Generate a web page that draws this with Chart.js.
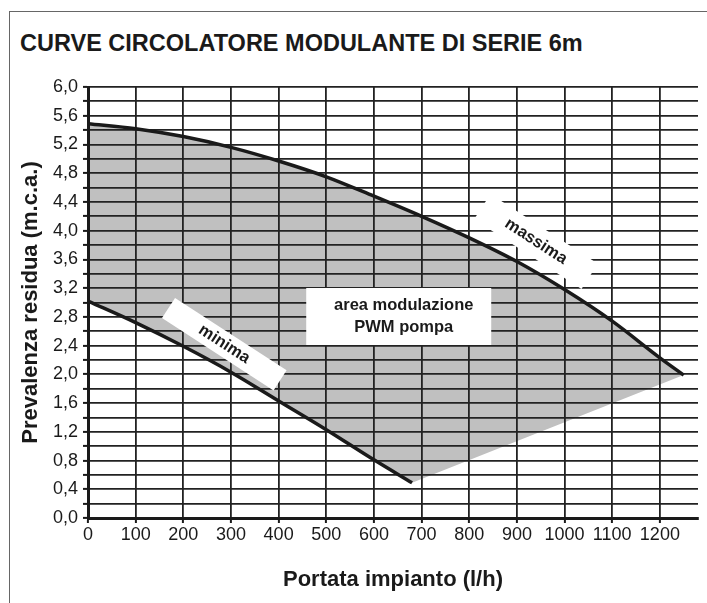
<!DOCTYPE html>
<html lang="it">
  <head>
    <meta charset="UTF-8" />
    <title>Curve circolatore modulante</title>
    <script src="https://cdn.jsdelivr.net/npm/chart.js"></script>
    <style>
      body { margin: 0; background: #fff; font-family: "Liberation Sans", Arial, sans-serif; }
      #wrap { position: relative; width: 707px; height: 603px; }
      #frame { position: absolute; left: 9px; top: 11px; right: 0; bottom: 0; border-left: 1px solid #666; border-top: 1px solid #666; }
      #title { position: absolute; left: 20px; top: 32px; margin: 0; font-size: 23.5px; line-height: 23px; font-weight: bold; color: #1a1a1a; white-space: nowrap; }
      canvas { position: absolute; left: 0; top: 0; }
    </style>
  </head>
  <body>
    <div id="wrap">
      <div id="frame"></div>
      <h1 id="title">CURVE CIRCOLATORE MODULANTE DI SERIE 6m</h1>
      <canvas id="curveChart" width="707" height="603"></canvas>
    </div>

    <script>
      // curve values (portata l/h, prevalenza m)
      const massimaX = [0, 100, 200, 300, 400, 500, 600, 700, 800, 900, 1000, 1100, 1200, 1250];
      const massimaY = [5.49, 5.42, 5.31, 5.16, 4.97, 4.75, 4.48, 4.2, 3.9, 3.57, 3.18, 2.74, 2.23, 1.99];
      const minimaX = [0, 100, 200, 300, 400, 500, 600, 680];
      const minimaY = [3.02, 2.72, 2.39, 2.03, 1.63, 1.23, 0.81, 0.49];

      // axis ticks
      const xTicks = [0, 100, 200, 300, 400, 500, 600, 700, 800, 900, 1000, 1100, 1200];
      const xTickLabels = ["0", "100", "200", "300", "400", "500", "600", "700", "800", "900", "1000", "1100", "1200"];
      const yGrid = [0, 0.2, 0.4, 0.6, 0.8, 1, 1.2, 1.4, 1.6, 1.8, 2, 2.2, 2.4, 2.6, 2.8, 3, 3.2, 3.4, 3.6, 3.8, 4, 4.2, 4.4, 4.6, 4.8, 5, 5.2, 5.4, 5.6, 5.8, 6];
      const yLabelValues = [0, 0.4, 0.8, 1.2, 1.6, 2, 2.4, 2.8, 3.2, 3.6, 4, 4.4, 4.8, 5.2, 5.6, 6];
      const yTickLabels = ["0,0", "0,4", "0,8", "1,2", "1,6", "2,0", "2,4", "2,8", "3,2", "3,6", "4,0", "4,4", "4,8", "5,2", "5,6", "6,0"];

      const toPoints = (xs, ys) => xs.map((x, i) => ({ x: x, y: ys[i] }));
      const massima = toPoints(massimaX, massimaY);
      const minima = toPoints(minimaX, minimaY);
      // lower edge of the grey area: minima curve, then straight to the end of massima
      const areaBottom = minima.concat([massima[massima.length - 1]]);

      const FONT = "'Liberation Sans', Arial, sans-serif";
      const INK = "#1a1a1a";

      // white label boxes, anchored in data units
      const labels = [
        { text: ["minima"], x: 286, y: 2.42, w: 133, h: 24, angle: 33 },
        { text: ["massima"], x: 940, y: 3.85, w: 128, h: 30, angle: 33 },
        { text: ["area modulazione", "PWM pompa"], x: 652, y: 2.805, w: 185, h: 57, angle: 0, dx: 5 },
      ];

      const labelPlugin = {
        id: "labelBoxes",
        afterDatasetsDraw(chart) {
          const ctx = chart.ctx;
          const sx = chart.scales.x;
          const sy = chart.scales.y;
          labels.forEach((l) => {
            const px = sx.getPixelForValue(l.x);
            const py = sy.getPixelForValue(l.y);
            ctx.save();
            ctx.translate(px, py);
            ctx.rotate((l.angle * Math.PI) / 180);
            ctx.fillStyle = "#fff";
            ctx.fillRect(-l.w / 2, -l.h / 2, l.w, l.h);
            ctx.fillStyle = INK;
            ctx.font = "bold 16.5px " + FONT;
            ctx.textAlign = "center";
            ctx.textBaseline = "middle";
            const lh = 22;
            l.text.forEach((t, i) => {
              ctx.fillText(t, l.dx || 0, (i - (l.text.length - 1) / 2) * lh);
            });
            ctx.restore();
          });
        },
      };

      new Chart(document.getElementById("curveChart"), {
        type: "line",
        data: {
          datasets: [
            {
              label: "massima",
              data: massima,
              borderColor: INK,
              borderWidth: 3.5,
              pointRadius: 0,
              cubicInterpolationMode: "monotone",
              backgroundColor: "#c0c0c0",
              fill: "+1",
            },
            {
              label: "area",
              data: areaBottom,
              borderWidth: 0,
              pointRadius: 0,
              tension: 0,
              fill: false,
            },
            {
              label: "minima",
              data: minima,
              borderColor: INK,
              borderWidth: 3.5,
              pointRadius: 0,
              cubicInterpolationMode: "monotone",
              fill: false,
            },
          ],
        },
        options: {
          responsive: false,
          animation: false,
          devicePixelRatio: 1,
          layout: { padding: { top: 87, right: 9, left: 0, bottom: 0 } },
          plugins: {
            legend: { display: false },
            tooltip: { enabled: false },
            filler: { drawTime: "beforeDraw" },
          },
          scales: {
            x: {
              type: "linear",
              min: 0,
              max: 1280,
              afterBuildTicks: (axis) => {
                axis.ticks = xTicks.map((v) => ({ value: v }));
              },
              afterFit: (axis) => {
                axis.height = 85;
              },
              ticks: {
                color: INK,
                font: { family: FONT, size: 18 },
                padding: 1,
                maxRotation: 0,
                autoSkip: false,
                callback: (value) => {
                  const i = xTicks.indexOf(value);
                  return i >= 0 ? xTickLabels[i] : "";
                },
              },
              grid: { color: "#222", lineWidth: 1.8, tickLength: 5, tickColor: INK, tickWidth: 2 },
              border: { display: true, color: INK, width: 3 },
              title: {
                display: true,
                text: "Portata impianto (l/h)",
                color: INK,
                font: { family: FONT, size: 22, weight: "bold" },
                padding: { top: 0, bottom: 10 },
              },
            },
            y: {
              type: "linear",
              min: 0,
              max: 6,
              afterBuildTicks: (axis) => {
                axis.ticks = yGrid.map((v) => ({ value: v }));
              },
              afterFit: (axis) => {
                axis.width = 88;
              },
              ticks: {
                color: INK,
                font: { family: FONT, size: 18 },
                padding: 5,
                autoSkip: false,
                callback: (value) => {
                  const i = yLabelValues.findIndex((v) => Math.abs(v - value) < 1e-6);
                  return i >= 0 ? yTickLabels[i] : "";
                },
              },
              grid: { color: "#222", lineWidth: 1.8, tickLength: 5, tickColor: INK, tickWidth: 2 },
              border: { display: true, color: INK, width: 3 },
              title: {
                display: true,
                text: "Prevalenza residua (m.c.a.)",
                color: INK,
                font: { family: FONT, size: 22, weight: "bold" },
                padding: { top: 18, bottom: 0 },
              },
            },
          },
        },
        plugins: [labelPlugin],
      });
    </script>
  </body>
</html>
